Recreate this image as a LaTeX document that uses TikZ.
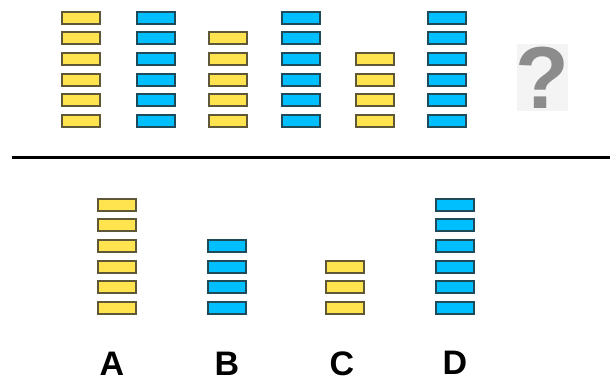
\documentclass[tikz,border=0pt]{standalone}
\usepackage{fontspec}
\setmainfont{Liberation Sans}
\usepackage{tikz}

\definecolor{brickyellow}{HTML}{FFE34F}
\definecolor{yellowedge}{HTML}{5E5838}
\definecolor{brickblue}{HTML}{00BFFF}
\definecolor{blueedge}{HTML}{1F4A5A}
\definecolor{qback}{HTML}{F4F4F4}
\definecolor{qgray}{HTML}{8C8C8C}

\begin{document}
\begin{tikzpicture}[x=1pt,y=-1pt,
    brick/.style={draw,rectangle,minimum width=38pt,minimum height=12pt,
      line width=2pt,inner sep=0pt},
    ybrick/.style={brick,fill=brickyellow,draw=yellowedge},
    bbrick/.style={brick,fill=brickblue,draw=blueedge},
    letter/.style={font=\fontsize{34}{34}\selectfont\bfseries,anchor=base,
      inner sep=0pt,text depth=0pt}]
  \useasboundingbox (0,0) rectangle (610,383);

  %% sequence on top
  \foreach \n/\s/\x [count=\k] in {6/ybrick/81,6/bbrick/155.5,5/ybrick/227.5,
      6/bbrick/300.5,4/ybrick/374.5,6/bbrick/447}
    \foreach \i in {1,...,\n}
      \node[\s] (t\k-\i) at (\x,{121-(\i-1)*20.7}) {};

  \node[fill=qback,minimum width=51pt,minimum height=67pt,inner sep=0pt]
    (qbox) at (542.5,77.5) {};
  \node[text=qgray,font=\fontsize{88}{88}\selectfont\bfseries,inner sep=0pt]
    (qmark) at (qbox) {?};

  \coordinate (sepl) at (12,157.5);
  \coordinate (sepr) at (612,157.5);
  \draw[line width=2.2pt] (sepl) -- (sepr);

  %% answers
  \foreach \n/\s/\x [count=\k] in {6/ybrick/117,4/bbrick/226.5,
      3/ybrick/345,6/bbrick/455}
    \foreach \i in {1,...,\n}
      \node[\s] (a\k-\i) at (\x,{308-(\i-1)*20.7}) {};

  \node[letter] (labA) at (112,375.5) {A};
  \node[letter] (labB) at (227,375.5) {B};
  \node[letter] (labC) at (342,375.5) {C};
  \node[letter] (labD) at (455,374.5) {D};
\end{tikzpicture}
\end{document}
